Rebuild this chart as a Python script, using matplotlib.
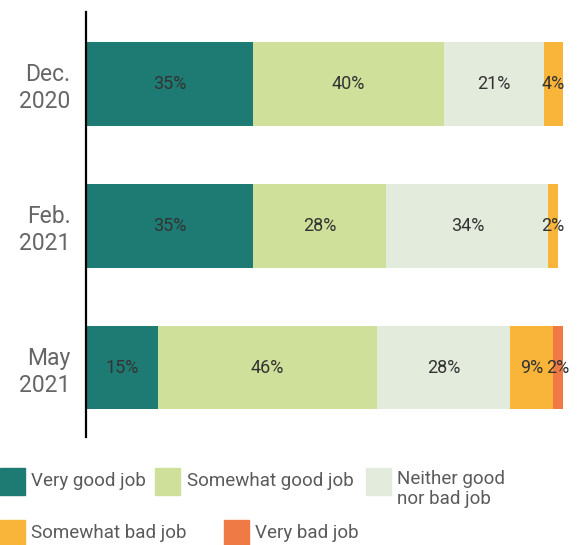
import numpy as np
import matplotlib.pyplot as plt
from matplotlib.patches import Rectangle

periods = ["Dec.\n2020", "Feb.\n2021", "May\n2021"]
categories = ["Very good job", "Somewhat good job", "Neither good\nnor bad job",
              "Somewhat bad job", "Very bad job"]
very_good = [35, 35, 15]
somewhat_good = [40, 28, 46]
neither = [21, 34, 28]
somewhat_bad = [4, 2, 9]
very_bad = [0, 0, 2]

colors = ["#1e7b74", "#cfe09a", "#e3ebdc", "#f9b53a", "#ef7a45"]

plt.rcParams['font.family'] = ['Roboto', 'DejaVu Sans']

fig = plt.figure(figsize=(5.85, 5.45), dpi=100)
ax = fig.add_axes([0.147, 0.198, 0.815, 0.78])

series = [very_good, somewhat_good, neither, somewhat_bad, very_bad]
y = np.arange(len(periods))
left = np.zeros(len(periods))
for vals, col in zip(series, colors):
    vals = np.array(vals, dtype=float)
    bars = ax.barh(y, vals, left=left, height=0.59, color=col)
    labels = ["%d%%" % v if v > 0 else "" for v in vals]
    ax.bar_label(bars, labels=labels, label_type='center',
                 fontsize=13, color="#333333")
    left += vals

ax.set_xlim(0, 100)
ax.set_ylim(2.49, -0.507)
ax.set_yticks(y)
ax.set_yticklabels(periods, fontsize=16.5, color="#666666", linespacing=1.2)
ax.tick_params(axis='y', length=0, pad=11)
ax.set_xticks([])
for s in ["top", "right", "bottom"]:
    ax.spines[s].set_visible(False)
ax.spines["left"].set_linewidth(1.6)
ax.spines["left"].set_color("black")

# legend built by hand: swatch + text, two rows
W, H = 585.0, 545.0
legend_pos = [(0, 468, 31, 481), (155, 468, 187, 481), (366, 468, 397, 481),
              (0, 520, 31, 533), (224, 520, 255, 533)]
for (sx, sy, tx, ty), col, lab in zip(legend_pos, colors, categories):
    fig.patches.append(Rectangle((sx / W, 1 - (sy + 27) / H), 25 / W, 27 / H,
                                 transform=fig.transFigure, color=col))
    va = 'center' if "\n" not in lab else 'top'
    yy = 1 - ty / H if "\n" not in lab else 1 - (ty - 11) / H
    fig.text(tx / W, yy, lab, fontsize=13.5, color="#5a5a5a",
             ha='left', va=va, linespacing=1.17)

fig.savefig("out.png", dpi=100)
